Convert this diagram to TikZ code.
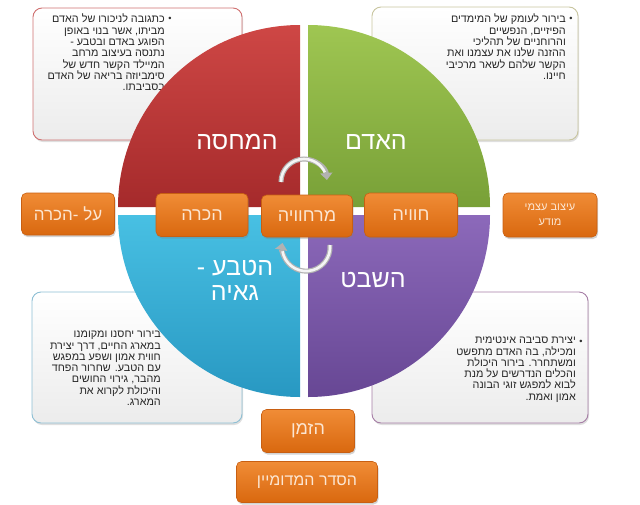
\documentclass[tikz,border=0pt]{standalone}
\usepackage{fontspec}
\usepackage{xcolor}
\usepackage{tikz}
\usetikzlibrary{shadows,arrows.meta}
\TeXXeTstate=1
\newfontfamily\hebfont[Script=Hebrew]{Liberation Sans}
\newcommand{\hebr}[1]{{\hebfont\beginR #1\endR}}

\definecolor{redtop}{HTML}{CE4745}
\definecolor{redbot}{HTML}{A52A2B}
\definecolor{greentop}{HTML}{9FC652}
\definecolor{greenbot}{HTML}{78A037}
\definecolor{bluetop}{HTML}{48C0E3}
\definecolor{bluebot}{HTML}{2898C2}
\definecolor{purptop}{HTML}{8C69BA}
\definecolor{purpbot}{HTML}{674794}
\definecolor{orangetop}{HTML}{F08C36}
\definecolor{orangebot}{HTML}{D9680F}
\definecolor{orangeline}{HTML}{C85F12}
\definecolor{cream}{HTML}{FCE6D2}
\definecolor{boxgray}{HTML}{ECECEC}

\begin{document}
\begin{tikzpicture}[x=1pt,y=-1pt,
    textbox/.style={rounded corners=9pt, line width=0.9pt, top color=white, bottom color=boxgray,
      drop shadow={opacity=0.25, shadow xshift=1pt, shadow yshift=-2pt}},
    boxtext/.style={inner sep=0pt, align=right, text=black!85, font=\fontsize{10.8}{11.3}\selectfont},
    dot/.style={inner sep=0pt, font=\fontsize{9}{9}\selectfont, text=black!80},
    labelbox/.style={rounded corners=5pt, draw=orangeline, line width=0.6pt, top color=orangetop,
      bottom color=orangebot, text=cream, align=center, font=\fontsize{18}{20}\selectfont,
      drop shadow={opacity=0.35, shadow xshift=1pt, shadow yshift=-2pt}},
    quadlabel/.style={text=white, align=center, font=\fontsize{25}{25}\selectfont},
    cyc/.style={line width=5pt, draw=gray!60, -{Triangle[length=7pt,width=12pt]}},
    cycin/.style={line width=2.6pt, draw=white!92!gray}]
\useasboundingbox (0,0) rectangle (640,504);

\draw[textbox, draw=red!50!gray!75] (33,8) rectangle (242,140);
\draw[textbox, draw=olive!40!gray!50] (372,7) rectangle (578,140);
\draw[textbox, draw=cyan!50!gray!70] (32,292) rectangle (242,423);
\draw[textbox, draw=violet!45!gray!70] (372,292) rectangle (588,423);

\node[boxtext, anchor=north east] (tltext) at (165,14) {
  \hebr{כתגובה לניכורו של האדם}\\
  \hebr{מביתו, אשר בנוי באופן}\\
  \hebr{הפוגע באדם ובטבע -}\\
  \hebr{נתנסה בעיצוב מרחב}\\
  \hebr{המיילד הקשר חדש של}\\
  \hebr{סימביוזה בריאה של האדם}\\
  \hebr{בסביבתו.}};
\node[dot] (tldot) at (170,19) {•};

\node[boxtext, anchor=north east] (trtext) at (566,14) {
  \hebr{בירור לעומק של המימדים}\\
  \hebr{הפיזיים, הנפשיים}\\
  \hebr{והרוחניים של תהליכי}\\
  \hebr{ההזנה שלנו את עצמנו ואת}\\
  \hebr{הקשר שלהם לשאר מרכיבי}\\
  \hebr{חיינו.}};
\node[dot] (trdot) at (571,19) {•};

\node[boxtext, anchor=north east] (bltext) at (161,331) {
  \hebr{בירור יחסנו ומקומנו}\\
  \hebr{במארג החיים, דרך יצירת}\\
  \hebr{חווית אמון ושפע במפגש}\\
  \hebr{עם הטבע. שחרור הפחד}\\
  \hebr{מהבר, גירוי החושים}\\
  \hebr{והיכולת לקרוא את}\\
  \hebr{המארג.}};

\node[boxtext, anchor=north east] (brtext) at (576,337) {
  \hebr{יצירת סביבה אינטימית}\\
  \hebr{ומכילה, בה האדם מתפשט}\\
  \hebr{ומשתחרר. בירור היכולת}\\
  \hebr{והכלים הנדרשים על מנת}\\
  \hebr{לבוא למפגש זוגי הבונה}\\
  \hebr{אמון ואמת.}};
\node[dot] (brdot) at (581,342) {•};

\shade[top color=redtop, bottom color=redbot] (300,207) -- ++(180:182) arc[start angle=180, end angle=270, radius=182] -- cycle;
\shade[top color=greentop, bottom color=greenbot] (308,207) -- ++(270:182) arc[start angle=270, end angle=360, radius=182] -- cycle;
\shade[top color=bluetop, bottom color=bluebot] (300,215) -- ++(90:182) arc[start angle=90, end angle=180, radius=182] -- cycle;
\shade[top color=purptop, bottom color=purpbot] (308,215) -- ++(0:182) arc[start angle=0, end angle=90, radius=182] -- cycle;

\node[quadlabel] (shelter) at (237,142) {\hebr{המחסה}};
\node[quadlabel] (human) at (376,142) {\hebr{האדם}};
\node[quadlabel] (tribe) at (373,280) {\hebr{השבט}};
\node[quadlabel] (nature) at (235,280) {\hebr{הטבע -}\\\hebr{גאיה}};

\coordinate (topstart) at (281,182);
\coordinate (botstart) at (330,245);
\draw[cyc] (topstart) arc[start angle=180, end angle=355, radius=23];
\draw[cycin] (topstart) arc[start angle=180, end angle=335, radius=23];
\draw[cyc] (botstart) arc[start angle=-5, end angle=190, radius=24];
\draw[cycin] (botstart) arc[start angle=-5, end angle=170, radius=24];

\node[labelbox, minimum width=93pt, minimum height=42pt, font=\fontsize{17}{19}\selectfont] (beyond) at (68,214) {\hebr{על -הכרה}};
\node[labelbox, minimum width=92pt, minimum height=43pt] (aware) at (202,215) {\hebr{הכרה}};
\node[labelbox, minimum width=91pt, minimum height=42pt] (space) at (307,216) {\hebr{מרחוויה}};
\node[labelbox, minimum width=93pt, minimum height=44pt] (exper) at (411,215) {\hebr{חוויה}};
\node[labelbox, minimum width=94pt, minimum height=44pt, font=\fontsize{11}{15}\selectfont] (design) at (550,215) {\hebr{עיצוב עצמי}\\\hebr{מודע}};
\node[labelbox, minimum width=93pt, minimum height=43pt] (time) at (308,431) {\hebr{הזמן}};
\node[labelbox, minimum width=141pt, minimum height=41pt, font=\fontsize{16}{18}\selectfont] (order) at (307,482) {\hebr{הסדר המדומיין}};
\end{tikzpicture}
\end{document}
